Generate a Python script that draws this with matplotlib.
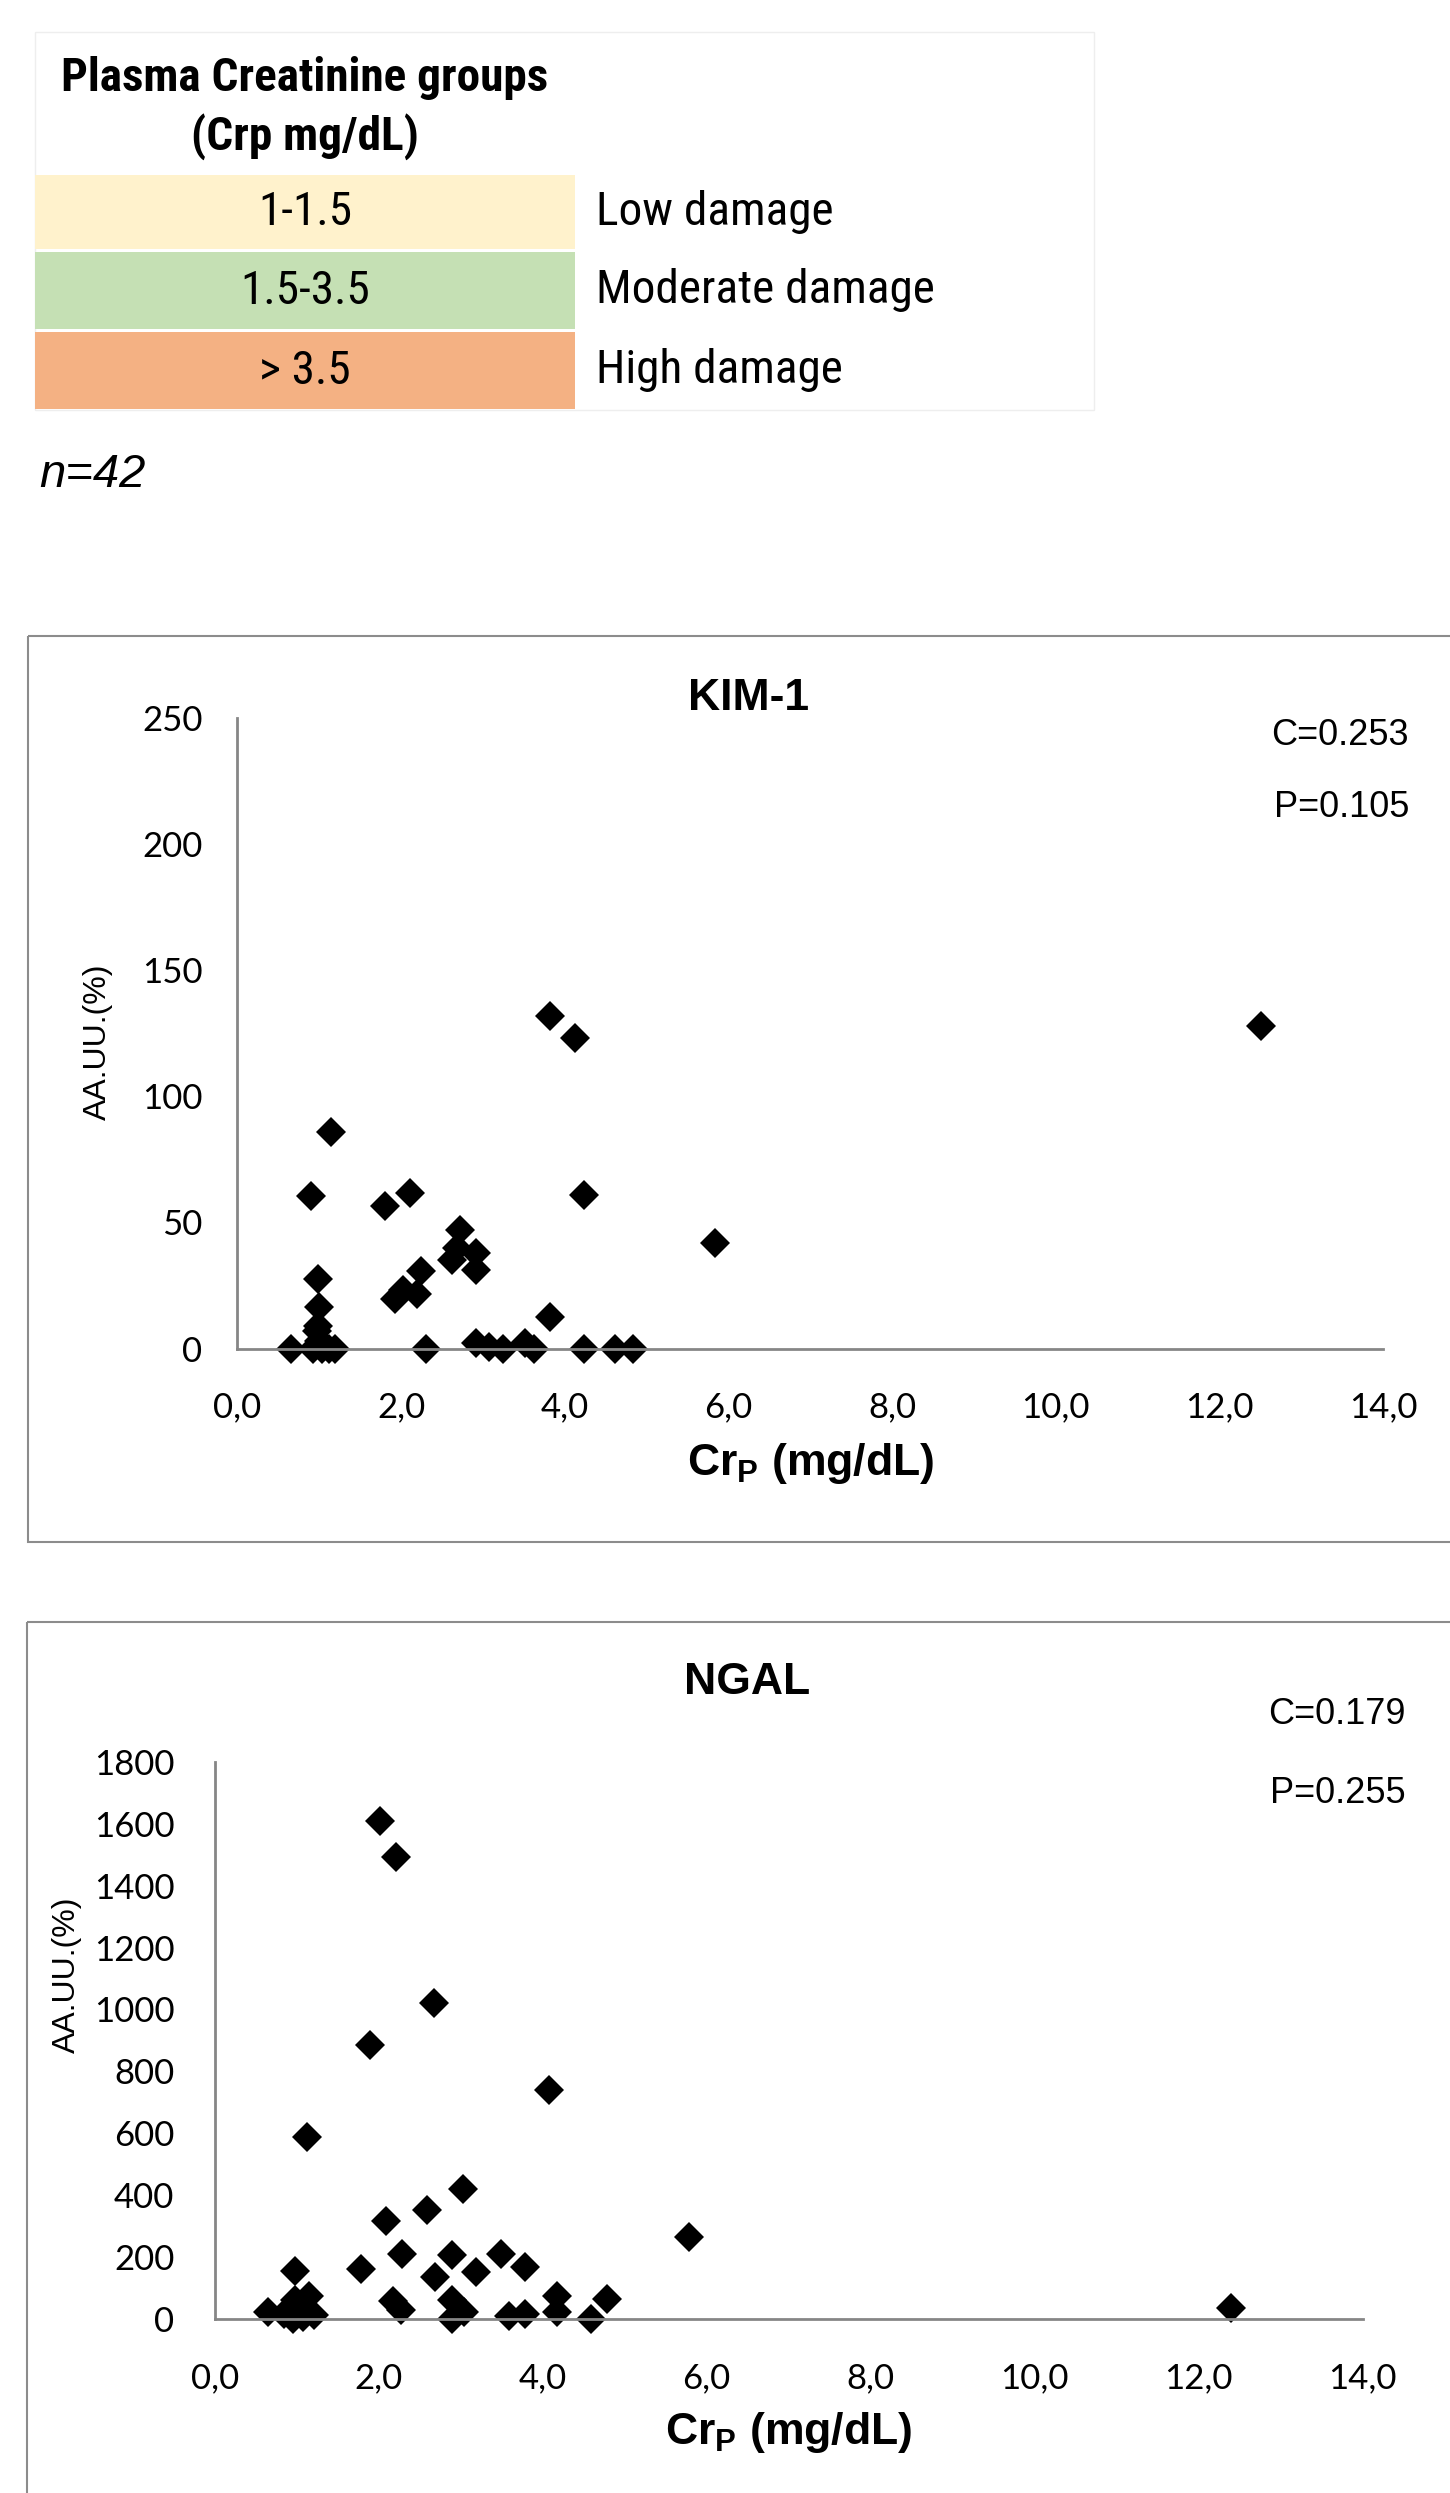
import matplotlib
matplotlib.use("Agg")
import matplotlib.pyplot as plt
from matplotlib.patches import Rectangle
from matplotlib.ticker import FuncFormatter
from matplotlib import font_manager

# table with creatinine groups
group_ranges = ["1-1.5", "1.5-3.5", "> 3.5"]
group_names = ["Low damage", "Moderate damage", "High damage"]
group_colors = ["#FFF2CC", "#C5E0B4", "#F4B183"]
header = ["Plasma Creatinine groups", "(Crp mg/dL)"]
n_text = "n=42"

# KIM-1 vs plasma creatinine
kim_x = [0.65, 0.93, 0.97, 1.04, 1.12, 1.19, 0.99, 1.00, 0.98, 1.00, 0.90, 1.15,
         1.81, 2.11, 1.93, 2.02, 2.19, 2.24, 2.30, 2.62, 2.68, 2.72, 2.91, 2.91,
         2.92, 3.08, 3.24, 3.52, 3.63, 3.82, 3.82, 4.13, 4.23, 4.23, 4.62, 4.83,
         5.84, 12.50]
kim_y = [0, 0, 7, 0, 0, 0, 27.4, 16.5, 8.9, 3, 60.5, 85.8,
         56.5, 61.8, 19.8, 23, 21.8, 30.6, 0, 35, 40, 46.9, 37.9, 31.3,
         2, 0.5, 0, 2, 0, 132, 12.3, 123, 61, 0, 0, 0,
         42, 127.7]

# NGAL vs plasma creatinine
ngal_x = [0.65, 0.84, 0.96, 0.98, 0.98, 1.05, 1.15, 1.21, 1.08, 1.00, 1.12,
          1.79, 1.90, 2.01, 2.09, 2.21, 2.17, 2.27, 2.28, 2.59, 2.67, 2.69,
          2.89, 2.89, 2.89, 3.04, 3.03, 3.19, 3.49, 3.59, 3.79, 3.79, 4.08,
          4.18, 4.18, 4.59, 4.79, 5.79, 12.39]
ngal_y = [22, 16, 0, 59, 154, 30, 75, 11, 5, 40, 587,
          162, 885, 1610, 316, 1493, 58, 27, 208, 353, 1022, 135,
          205, 62, 0, 22, 420, 151, 210, 8, 14, 167, 740,
          75, 22, 0, 65, 264, 35]

x_ticks = [0, 2, 4, 6, 8, 10, 12, 14]
kim_yticks = [0, 50, 100, 150, 200, 250]
ngal_yticks = [0, 200, 400, 600, 800, 1000, 1200, 1400, 1600, 1800]

plt.rcParams['mathtext.fontset'] = 'custom'
plt.rcParams['mathtext.rm'] = 'Liberation Sans'
plt.rcParams['mathtext.bf'] = 'Liberation Sans:bold'

ARIAL = ['Liberation Sans', 'DejaVu Sans']
TICKF = ['Lato', 'DejaVu Sans']
GREY = "#868686"


def narrow_font(bold):
    # look for some condensed sans font for the table (Arial Narrow look)
    wanted = ['Liberation Sans Narrow', 'Arial Narrow', 'Roboto Condensed',
              'Open Sans Condensed', 'Noto Sans', 'Open Sans', 'DejaVu Sans',
              'Roboto']
    fl = font_manager.fontManager.ttflist
    for name in wanted:
        for f in fl:
            if f.name != name or f.style != 'normal':
                continue
            cond = ('Narrow' in name or 'Condensed' in name
                    or f.stretch in ('condensed', 'semi-condensed', 'extra-condensed'))
            if not cond:
                continue
            w = f.weight if isinstance(f.weight, int) else 400
            if (w >= 600) == bold:
                if 'Condensed' in name or 'Narrow' in name or f.stretch == 'condensed':
                    return font_manager.FontProperties(fname=f.fname)
    return None


nar_reg = narrow_font(False)
nar_bold = narrow_font(True)


def table_text(x, y, s, bold=False, ha='center'):
    fp = nar_bold if bold else nar_reg
    if fp is not None:
        t = bg.text(x, y, s, ha=ha, va='center', fontproperties=fp)
        t.set_fontsize(34)
    else:
        bg.text(x, y, s, ha=ha, va='center', fontsize=28, family=ARIAL,
                fontweight='bold' if bold else 'normal')


W, H = 1450, 2493
fig = plt.figure(figsize=(W / 100, H / 100), dpi=100)

# background axes in pixel units for table and frames
bg = fig.add_axes([0, 0, 1, 1])
bg.set_xlim(0, W)
bg.set_ylim(H, 0)
bg.axis('off')

bg.add_patch(Rectangle((35, 32), 1059, 378, fill=False, ec="#EEEEEE", lw=1))
table_text(305, 78, header[0], bold=True)
table_text(305, 137, header[1], bold=True)
row_top = [175, 252, 332]
row_h = [74, 77, 77]
for i in range(3):
    bg.add_patch(Rectangle((35, row_top[i]), 540, row_h[i], fc=group_colors[i], ec='none'))
    yc = row_top[i] + row_h[i] / 2
    table_text(305, yc, group_ranges[i])
    table_text(596, yc, group_names[i], ha='left')
bg.text(39, 475, n_text, ha='left', va='center', fontsize=34, style='italic', family=ARIAL)

# panel frames
bg.add_patch(Rectangle((28, 636), 1440, 906, fill=False, ec="#8C8C8C", lw=1.5))
bg.add_patch(Rectangle((27, 1622), 1440, 900, fill=False, ec="#8C8C8C", lw=1.5))


def draw_panel(rect, xs, ys, yticks, title, c_txt, p_txt, title_pos, c_pos, p_pos,
               ylab_pos, xlab_y, ypad):
    ax = fig.add_axes(rect)
    ax.set_facecolor('none')
    ax.plot(xs, ys, ls='none', marker='D', ms=15.5, mew=0, color='black', clip_on=False)
    ax.set_xlim(0, 14)
    ax.set_ylim(0, yticks[-1])
    ax.set_xticks(x_ticks)
    ax.set_yticks(yticks)
    ax.xaxis.set_major_formatter(FuncFormatter(lambda v, p: f"{v:.1f}".replace('.', ',')))
    for s in ['top', 'right']:
        ax.spines[s].set_visible(False)
    for s in ['left', 'bottom']:
        ax.spines[s].set_color(GREY)
        ax.spines[s].set_linewidth(2)
    ax.tick_params(axis='x', length=0, pad=31)
    ax.tick_params(axis='y', length=0, pad=ypad)
    for lab in ax.get_xticklabels() + ax.get_yticklabels():
        lab.set_fontsize(25)
        lab.set_family(TICKF)
    ax.set_title(title, fontsize=32, fontweight='bold', family=ARIAL,
                 x=title_pos[0], y=title_pos[1], pad=0, va='center')
    ax.text(c_pos[0], c_pos[1], c_txt, transform=ax.transAxes, ha='right',
            va='center', fontsize=26, family=ARIAL)
    ax.text(p_pos[0], p_pos[1], p_txt, transform=ax.transAxes, ha='right',
            va='center', fontsize=26, family=ARIAL)
    ax.set_ylabel("AA.UU.(%)", fontsize=23, family=ARIAL, va='center')
    ax.yaxis.set_label_coords(*ylab_pos)
    ax.set_xlabel(r"Cr$_{\mathbf{P}}$ (mg/dL)", fontsize=32, fontweight='bold', family=ARIAL)
    ax.xaxis.label.set_va('center')
    ax.xaxis.set_label_coords(0.5, xlab_y)
    return ax


# KIM-1 axes: x 237..1383 px, y 718..1348 px
draw_panel([237.3 / W, (H - 1348.5) / H, 1146 / W, 630.5 / H],
           kim_x, kim_y, kim_yticks, "KIM-1", "C=0.253", "P=0.105",
           (0.4465, 1.031), (1.0224, 0.972), (1.0224, 0.858),
           (-0.1216, 0.487), -0.1825, 25)

# NGAL axes: x 215..1363 px, y 1762..2319 px
draw_panel([214.7 / W, (H - 2318.7) / H, 1148 / W, 556.7 / H],
           ngal_x, ngal_y, ngal_yticks, "NGAL", "C=0.179", "P=0.255",
           (0.4637, 1.1437), (1.037, 1.086), (1.037, 0.944),
           (-0.1287, 0.617), -0.205, 29)

fig.savefig("out.png", dpi=100)
